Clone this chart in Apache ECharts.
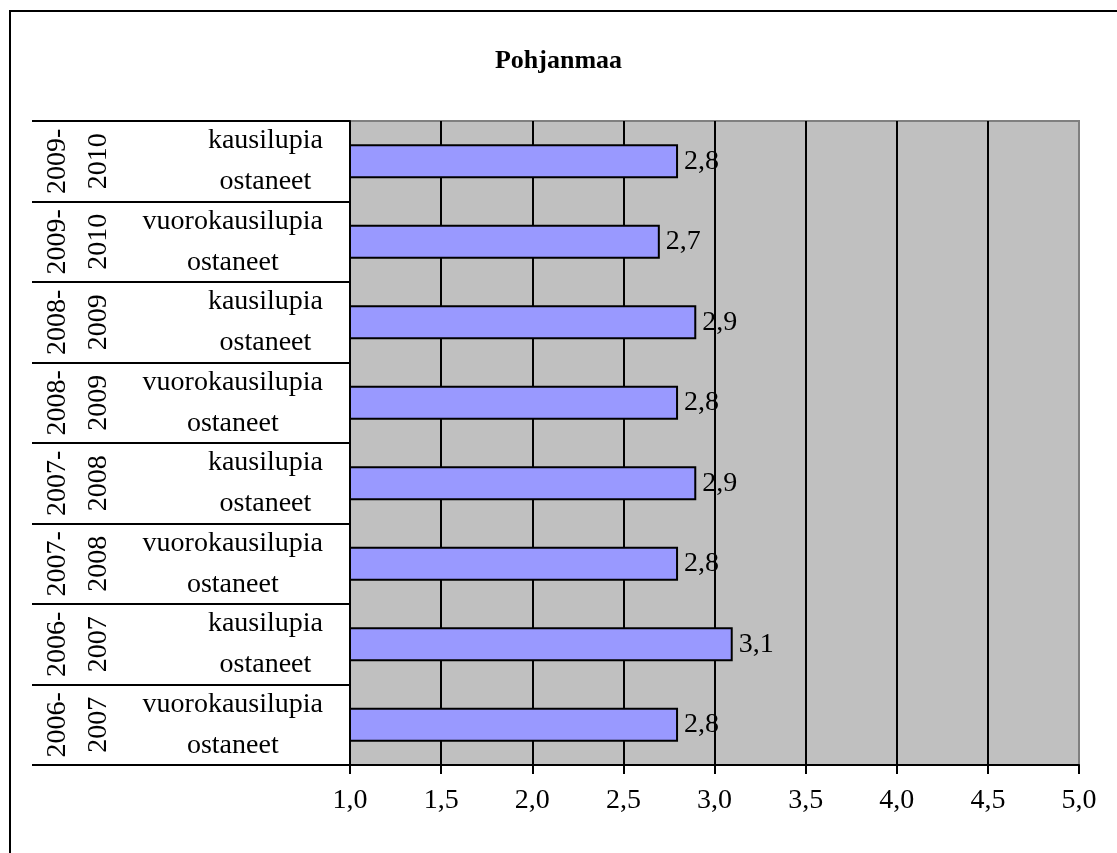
<!DOCTYPE html>
<html>
<head>
<meta charset="utf-8">
<script src="https://cdn.jsdelivr.net/npm/echarts@6/dist/echarts.min.js"></script>
<style>
  html, body { margin: 0; padding: 0; background: #fff; }
  #chart { width: 1117px; height: 853px; }
</style>
</head>
<body>
<div id="chart"></div>
<script>
// data, listed top to bottom
const typeLabels = [
  'kausilupia\nostaneet',
  'vuorokausilupia\nostaneet',
  'kausilupia\nostaneet',
  'vuorokausilupia\nostaneet',
  'kausilupia\nostaneet',
  'vuorokausilupia\nostaneet',
  'kausilupia\nostaneet',
  'vuorokausilupia\nostaneet'
];
const yearLabels = [
  '2009-\n2010', '2009-\n2010',
  '2008-\n2009', '2008-\n2009',
  '2007-\n2008', '2007-\n2008',
  '2006-\n2007', '2006-\n2007'
];
const values = [2.8, 2.7, 2.9, 2.8, 2.9, 2.8, 3.1, 2.8];

const FONT = '"Liberation Serif", "Times New Roman", serif';
const comma = v => Number(v).toFixed(1).replace('.', ',');

(function () {
  let myChart = echarts.init(document.getElementById('chart'));

  let option = {
    animation: false,
    backgroundColor: '#fff',
    // outer frame
    graphic: [{
      type: 'rect',
      shape: { x: 10, y: 11, width: 1300, height: 1000 },
      style: { fill: 'none', stroke: '#000', lineWidth: 2 },
      silent: true
    }],
    title: {
      text: 'Pohjanmaa',
      left: 'center',
      top: 43,
      textStyle: { fontFamily: FONT, fontSize: 26, fontWeight: 'bold', color: '#000' }
    },
    grid: {
      left: 350,
      right: 38,
      top: 121,
      bottom: 88,
      show: true,
      backgroundColor: '#c0c0c0',
      borderColor: '#808080',
      borderWidth: 2
    },
    xAxis: {
      type: 'value',
      min: 1,
      max: 5,
      interval: 0.5,
      axisLine: { show: true, lineStyle: { color: '#000', width: 2 } },
      axisTick: { show: true, length: 9, lineStyle: { color: '#000', width: 2 } },
      axisLabel: {
        margin: 22,
        color: '#000',
        fontFamily: FONT,
        fontSize: 28,
        formatter: comma
      },
      splitLine: {
        show: true,
        showMinLine: false,
        showMaxLine: false,
        lineStyle: { color: '#000', width: 2 }
      }
    },
    yAxis: [
      {
        type: 'category',
        inverse: true,
        data: typeLabels,
        axisLine: { show: true, lineStyle: { color: '#000', width: 2 } },
        axisTick: { show: true, length: 318, lineStyle: { color: '#000', width: 2 } },
        axisLabel: {
          interval: 0,
          margin: 27,
          align: 'right',
          formatter: v => v.split('\n').map(s => '{a|' + s + '}').join('\n'),
          rich: {
            a: { align: 'center', fontFamily: FONT, fontSize: 28, lineHeight: 41, color: '#000' }
          }
        }
      },
      {
        type: 'category',
        inverse: true,
        position: 'left',
        data: yearLabels,
        axisLine: { show: false },
        axisTick: { show: false },
        axisLabel: {
          interval: 0,
          rotate: 90,
          margin: 231,
          color: '#000',
          fontFamily: FONT,
          fontSize: 28,
          lineHeight: 41
        }
      }
    ],
    series: [
      {
        type: 'bar',
        yAxisIndex: 0,
        data: values,
        barWidth: 34,
        itemStyle: { color: '#9999ff', borderColor: '#000', borderWidth: 2 },
        label: {
          show: true,
          position: 'right',
          distance: 6,
          color: '#000',
          fontFamily: FONT,
          fontSize: 28,
          formatter: p => comma(p.value)
        }
      }
    ]
  };

  myChart.setOption(option);
})();
</script>
</body>
</html>
